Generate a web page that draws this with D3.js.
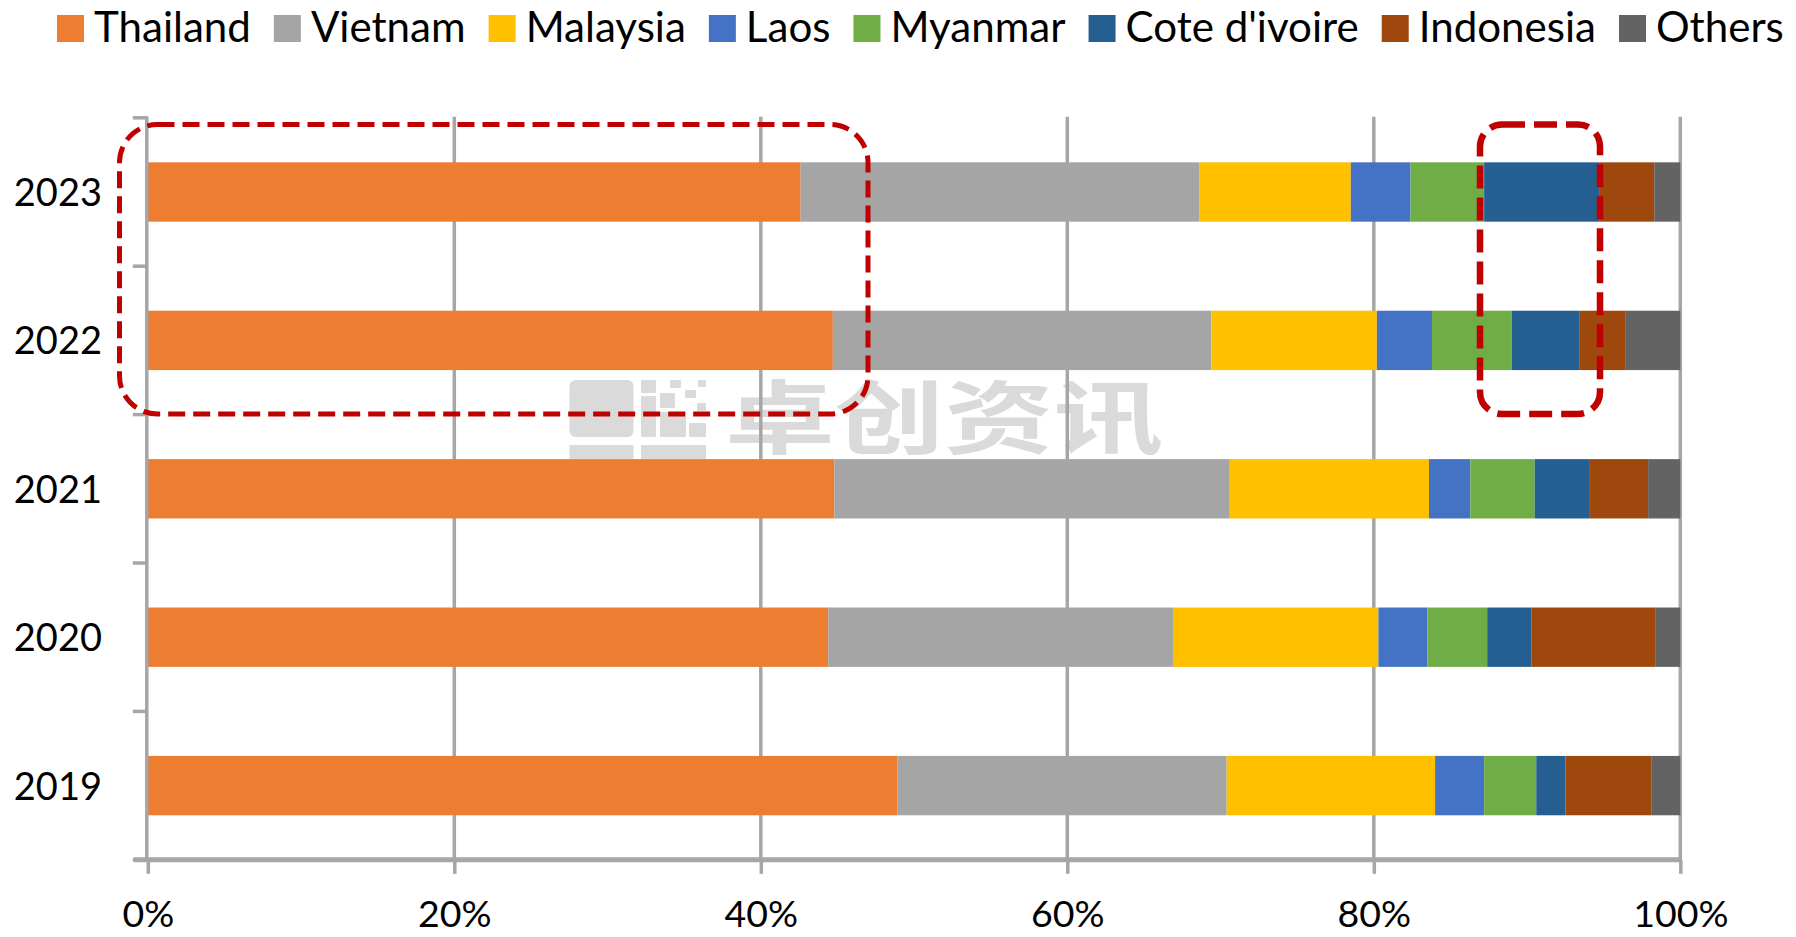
<!DOCTYPE html>
<html>
<head>
<meta charset="utf-8">
<script src="https://cdn.jsdelivr.net/npm/d3@7"></script>
<style>
  html, body { margin: 0; padding: 0; background: #ffffff; }
  svg { display: block; }
</style>
</head>
<body>
<svg id="chart" width="1796" height="937"></svg>
<script>
// ---------------- DATA ----------------
const years = ["2023", "2022", "2021", "2020", "2019"];
const countries = ["Thailand", "Vietnam", "Malaysia", "Laos", "Myanmar", "Cote d'ivoire", "Indonesia", "Others"];
const thailand    = [42.6, 44.7, 44.8, 44.4, 48.9];
const vietnam     = [26.0, 24.7, 25.8, 22.5, 21.5];
const malaysia    = [ 9.9, 10.8, 13.0, 13.4, 13.6];
const laos        = [ 3.9,  3.6,  2.7,  3.2,  3.2];
const myanmar     = [ 4.8,  5.2,  4.2,  3.9,  3.4];
const coteDivoire = [ 7.5,  4.4,  3.6,  2.9,  1.9];
const indonesia   = [ 3.6,  3.0,  3.8,  8.1,  5.6];
const others      = [ 1.7,  3.6,  2.1,  1.6,  1.9];
const tickValues  = [0, 0.2, 0.4, 0.6, 0.8, 1.0];
const tickLabels  = ["0%", "20%", "40%", "60%", "80%", "100%"];
const colors = ["#ED7D31", "#A5A5A5", "#FFC000", "#4472C4", "#70AD47", "#255E91", "#9E480E", "#636363"];
const watermarkText = "卓创资讯";

// ---------------- BUILD ----------------
(function () {
const seriesValues = [thailand, vietnam, malaysia, laos, myanmar, coteDivoire, indonesia, others];
const table = years.map((yr, i) => {
  const row = { year: yr };
  countries.forEach((c, k) => row[c] = seriesValues[k][i]);
  return row;
});
const stacked = d3.stack().keys(countries).offset(d3.stackOffsetExpand)(table);

const svg = d3.select("#chart");
const FONT = "Lato, 'Open Sans', sans-serif";
const GRID = "#A6A6A6";

const x = d3.scaleLinear().domain([0, 1]).range([147.8, 1680.3]);
const y = d3.scaleBand().domain(years).range([117.8, 859.8]).paddingInner(0.6).paddingOuter(0.3);
const color = d3.scaleOrdinal().domain(countries).range(colors);

// ---- watermark (behind everything) ----
const wm = svg.append("g").attr("fill", "#DADADA");
const logo = [
  [569.5, 380, 64, 57, 6], [569.5, 445, 64, 14, 0], [641, 445, 65, 14, 0],
  [641, 380, 15, 13, 1], [670, 380, 11, 8, 1], [698, 380, 8, 7, 1],
  [660, 393, 15, 15, 1], [685, 390, 11, 8, 1], [641, 396, 15, 41, 1],
  [697, 403, 9, 8, 1], [689, 423, 17, 14, 1], [660, 412, 26, 25, 1]
];
wm.selectAll("rect").data(logo).join("rect")
  .attr("x", d => d[0]).attr("y", d => d[1]).attr("width", d => d[2]).attr("height", d => d[3])
  .attr("rx", d => d[4]);
wm.append("text")
  .attr("x", 725).attr("y", 447)
  .attr("font-family", "'Noto Sans CJK SC', sans-serif")
  .attr("font-weight", 700)
  .attr("font-size", 80)
  .attr("textLength", 438)
  .attr("lengthAdjust", "spacingAndGlyphs")
  .text(watermarkText);

// ---- gridlines ----
const yTop = y.range()[0], yBottom = y.range()[1];
svg.append("g").selectAll("line").data(tickValues.slice(1)).join("line")
  .attr("x1", d => x(d)).attr("x2", d => x(d))
  .attr("y1", yTop - 1).attr("y2", yBottom)
  .attr("stroke", GRID).attr("stroke-width", 3.5);

// ---- bars ----
svg.append("g").selectAll("g").data(stacked).join("g")
  .attr("fill", d => color(d.key))
  .selectAll("rect").data(d => d).join("rect")
  .attr("x", d => x(d[0]))
  .attr("width", d => x(d[1]) - x(d[0]))
  .attr("y", d => y(d.data.year))
  .attr("height", y.bandwidth());

// ---- y axis ----
const yAxisG = svg.append("g");
yAxisG.append("line")
  .attr("x1", x(0) - 1).attr("x2", x(0) - 1)
  .attr("y1", yTop - 1).attr("y2", yBottom)
  .attr("stroke", GRID).attr("stroke-width", 3.5);
const bounds = years.map(yr => y(yr) - y.step() * y.paddingInner() / 2).concat([yBottom]);
bounds[0] = yTop;
yAxisG.selectAll("line.tick").data(bounds).join("line").attr("class", "tick")
  .attr("x1", x(0) - 15).attr("x2", x(0))
  .attr("y1", d => d).attr("y2", d => d)
  .attr("stroke", GRID).attr("stroke-width", 3.5);
yAxisG.selectAll("text").data(years).join("text")
  .attr("x", 102)
  .attr("y", d => y(d) + y.bandwidth() / 2 + 14)
  .attr("text-anchor", "end")
  .attr("font-family", FONT).attr("font-size", 38).attr("fill", "#000")
  .text(d => d);

// ---- x axis ----
const xAxis = d3.axisBottom(x).tickValues(tickValues)
  .tickFormat((d, i) => tickLabels[i]).tickSize(14).tickSizeOuter(0);
const xg = svg.append("g").attr("transform", `translate(0,${yBottom})`).call(xAxis);
xg.select(".domain").remove();
xg.selectAll(".tick line").attr("stroke", GRID).attr("stroke-width", 3.5);
xg.selectAll(".tick text")
  .attr("font-family", FONT).attr("font-size", 37.5).attr("fill", "#000")
  .attr("dy", null).attr("y", 67.5);
svg.append("line")
  .attr("x1", x(0) - 14).attr("x2", x(1) + 1.5)
  .attr("y1", yBottom).attr("y2", yBottom)
  .attr("stroke", GRID).attr("stroke-width", 5);

// ---- legend ----
const legend = svg.append("g");
function measure(txt, size) {
  const t = svg.append("text").attr("font-family", FONT).attr("font-size", size).text(txt);
  const w = t.node().getComputedTextLength();
  t.remove();
  return w;
}
const baseSize = 40;
const natural = d3.sum(countries, c => measure(c, baseSize));
const legendSize = baseSize * 1270 / natural;
let lx = 57;
countries.forEach(c => {
  legend.append("rect").attr("x", lx).attr("y", 15).attr("width", 27).attr("height", 27)
    .attr("fill", color(c));
  const t = legend.append("text").attr("x", lx + 37).attr("y", 42)
    .attr("font-family", FONT).attr("font-size", legendSize).attr("fill", "#000").text(c);
  lx += 37 + t.node().getComputedTextLength() + 23;
});

// ---- red dashed highlight boxes ----
const ann = svg.append("g").attr("fill", "none").attr("stroke", "#C00000");
ann.append("rect")
  .attr("x", 119.5).attr("y", 124.5).attr("width", 868 - 119.5).attr("height", 414 - 124.5)
  .attr("rx", 38).attr("ry", 38)
  .attr("stroke-width", 5).attr("stroke-dasharray", "17 8");
ann.append("rect")
  .attr("x", 1480).attr("y", 124.5).attr("width", 1600 - 1480).attr("height", 414 - 124.5)
  .attr("rx", 22).attr("ry", 22)
  .attr("stroke-width", 6.5).attr("stroke-dasharray", "23 9");
})();
</script>
</body>
</html>
